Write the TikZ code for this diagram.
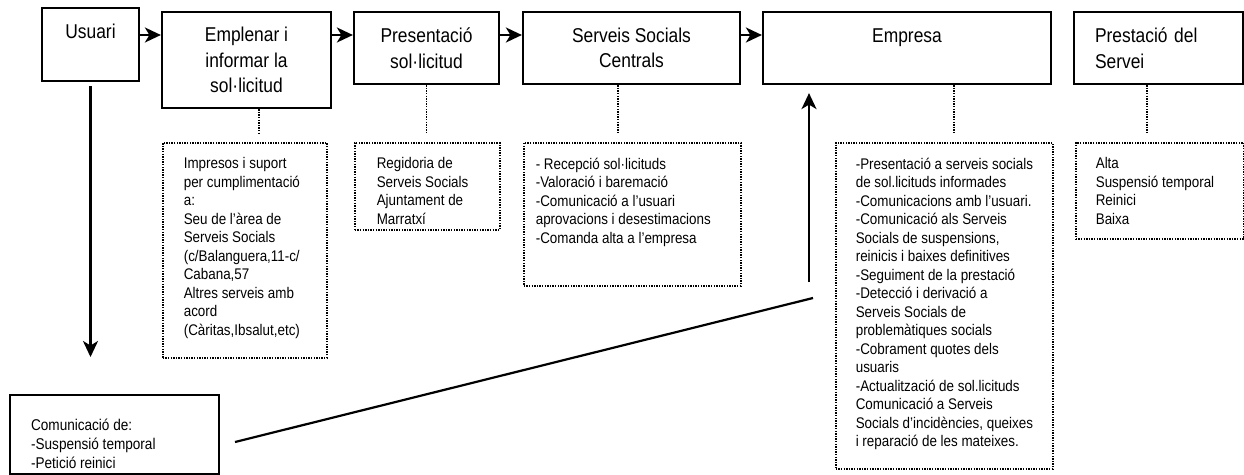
\documentclass[tikz,border=0pt]{standalone}
\usepackage{fontspec}
\setmainfont{Liberation Sans}[FakeStretch=0.87]
\usetikzlibrary{arrows.meta,calc}
\newcommand\notebody[5]{\hspace*{#1}\parbox[c][#3][t]{#2}{\raggedright\vspace*{#4}#5}}
\begin{document}
\begin{tikzpicture}[x=1pt,y=-1pt,
  mainbox/.style={draw, line width=2.2pt, inner sep=0pt, align=center,
    font=\fontsize{20}{25.5}\selectfont},
  notebox/.style={draw, line width=1.6pt, dash pattern=on 1.4pt off 1.2pt,
    inner sep=0pt, anchor=north west, font=\fontsize{15.4}{18.5}\selectfont},
  solidnote/.style={draw, line width=2.2pt, inner sep=0pt, anchor=north west,
    font=\fontsize{15.6}{19}\selectfont},
  dotl/.style={line width=1.6pt, dash pattern=on 1.4pt off 1.2pt, shorten >=8pt},
  arr/.style={line width=2.2pt, -{Stealth[length=16pt,width=15pt,inset=4.5pt]}},
  plain/.style={line width=2.2pt}]
\useasboundingbox (0,0) rectangle (1244,474);

% main boxes
\node[mainbox, minimum width=97pt, minimum height=73pt] (usuari) at (90.5,44.5) {Usuari\\\phantom{U}};
\node[mainbox, minimum width=169pt, minimum height=96pt] (empl) at (246.5,60) {Emplenar i\\informar la\\sol·licitud};
\node[mainbox, minimum width=145pt, minimum height=72pt] (pres) at (426.5,48) {Presentació\\sol·licitud};
\node[mainbox, minimum width=217pt, minimum height=72pt] (ssc) at (631.5,48) {Serveis Socials\\Centrals};
\node[mainbox, minimum width=288pt, minimum height=72pt] (emp) at (907,48) {Empresa\\\phantom{E}};
\node[mainbox, align=left, text width=127pt, inner xsep=21pt, minimum height=72pt] (prest) at (1158.5,48) {Prestació del\\Servei};

% note boxes
\node[notebox] (n1) at (162,142) {\notebody{21pt}{143pt}{215pt}{15pt}{Impresos i suport\\per cumplimentació\\a:\\Seu de l’àrea de\\Serveis Socials\\(c/Balanguera,11-c/\\Cabana,57\\Altres serveis amb\\acord\\(Càritas,Ibsalut,etc)}};
\node[notebox] (n2) at (354,142) {\notebody{22pt}{123pt}{87pt}{15pt}{Regidoria de\\Serveis Socials\\Ajuntament de\\Marratxí}};
\node[notebox] (n3) at (523,142) {\notebody{12pt}{205pt}{143pt}{15pt}{- Recepció sol·licituds\\-Valoració i baremació\\-Comunicació a l’usuari\\aprovacions i desestimacions\\-Comanda alta a l’empresa}};
\node[notebox] (n4) at (835,142) {\notebody{20pt}{197pt}{326pt}{15pt}{-Presentació a serveis socials\\de sol.licituds informades\\-Comunicacions amb l’usuari.\\-Comunicació als Serveis\\Socials de suspensions,\\reinicis i baixes definitives\\-Seguiment de la prestació\\-Detecció i derivació a\\Serveis Socials de\\problemàtiques socials\\-Cobrament quotes dels\\usuaris\\-Actualització de sol.licituds\\Comunicació a Serveis\\Socials d’incidències, queixes\\i reparació de les mateixes.}};
\node[notebox] (n5) at (1075,142) {\notebody{20pt}{148pt}{96pt}{15pt}{Alta\\Suspensió temporal\\Reinici\\Baixa}};
\node[solidnote] (bot) at (9,394) {\notebody{21pt}{188pt}{79pt}{24pt}{Comunicació de:\\-Suspensió temporal\\-Petició reinici}};

% horizontal arrows
\coordinate (rowy) at (0,35);
\draw[arr] (usuari.east |- rowy) -- (empl.west |- rowy);
\draw[arr] (empl.east |- rowy) -- (pres.west |- rowy);
\draw[arr] (pres.east |- rowy) -- (ssc.west |- rowy);
\draw[arr] (ssc.east |- rowy) -- (emp.west |- rowy);

% dotted links
\draw[dotl] ([xshift=12.5pt]empl.south) -- ([xshift=12.5pt]empl.south |- n1.north);
\draw[dotl] (pres.south) -- (pres.south |- n2.north);
\draw[dotl] ([xshift=-13.5pt]ssc.south) -- ([xshift=-13.5pt]ssc.south |- n3.north);
\draw[dotl] ([xshift=47pt]emp.south) -- ([xshift=47pt]emp.south |- n4.north);
\draw[dotl] ([xshift=-11.5pt]prest.south) -- ([xshift=-11.5pt]prest.south |- n5.north);

% down arrow from Usuari
\coordinate (dn) at (90.5,357);
\draw[arr, shorten <=4pt] (usuari.south) -- (dn);

% return path to Empresa
\coordinate (s1) at (235,442);
\coordinate (s2) at (813,298);
\draw[plain] (s1) -- (s2);
\coordinate (up) at (809,282);
\draw[arr, shorten >=8pt] (up) -- (up |- emp.south);
\end{tikzpicture}
\end{document}
